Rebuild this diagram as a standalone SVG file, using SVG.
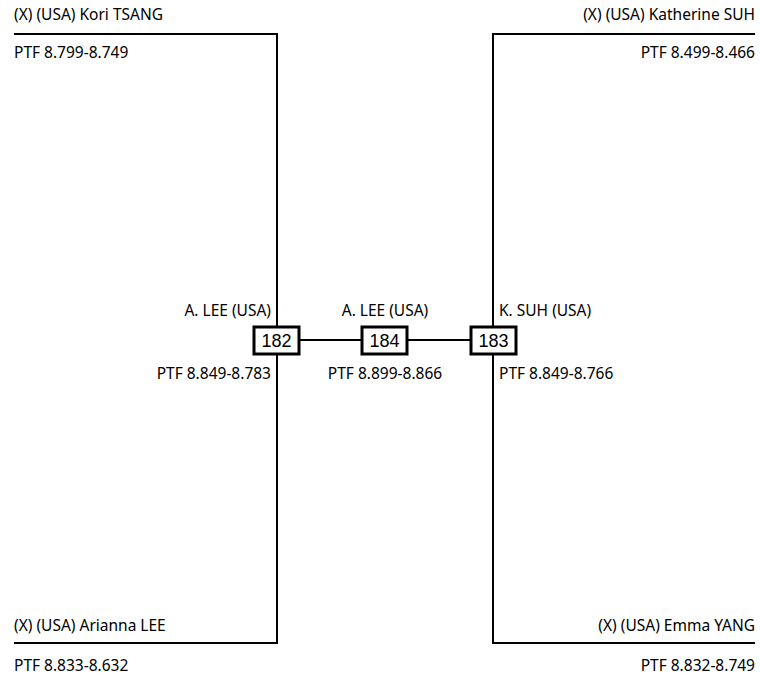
<svg xmlns="http://www.w3.org/2000/svg" width="760" height="676" viewBox="0 0 760 676">
<style>
text{font-family:"Noto Sans","Open Sans","DejaVu Sans",sans-serif;font-size:15.5px;fill:#000}
.num{font-family:"Liberation Sans",Arial,sans-serif;font-size:18px}
.ln{stroke:#000;stroke-width:2;fill:none}
.box{fill:#fff;stroke:#000;stroke-width:3}
</style>
<rect width="760" height="676" fill="#fff"/>
<g id="connectors">
<path class="ln" d="M14 34H277V643H14"/>
<path class="ln" d="M755 34H493V643H755"/>
<path class="ln" d="M277 340H493"/>
</g>
<g id="n182">
<rect class="box" x="254" y="327" width="45" height="27"/>
<text class="num" x="276.5" y="347" text-anchor="middle">182</text>
<text x="271" y="316" text-anchor="end">A. LEE (USA)</text>
<text x="271" y="379" text-anchor="end">PTF 8.849-8.783</text>
</g>
<g id="n184">
<rect class="box" x="362" y="327" width="45" height="27"/>
<text class="num" x="384.5" y="347" text-anchor="middle">184</text>
<text x="385" y="316" text-anchor="middle">A. LEE (USA)</text>
<text x="385" y="379" text-anchor="middle">PTF 8.899-8.866</text>
</g>
<g id="n183">
<rect class="box" x="471" y="327" width="45" height="27"/>
<text class="num" x="493.5" y="347" text-anchor="middle">183</text>
<text x="499" y="316">K. SUH (USA)</text>
<text x="499" y="379">PTF 8.849-8.766</text>
</g>
<g id="tsang">
<text x="14" y="20">(X) (USA) Kori TSANG</text>
<text x="14" y="58">PTF 8.799-8.749</text>
</g>
<g id="suh">
<text x="755" y="20" text-anchor="end">(X) (USA) Katherine SUH</text>
<text x="755" y="58" text-anchor="end">PTF 8.499-8.466</text>
</g>
<g id="alee">
<text x="14" y="631">(X) (USA) Arianna LEE</text>
<text x="14" y="671">PTF 8.833-8.632</text>
</g>
<g id="yang">
<text x="755" y="631" text-anchor="end">(X) (USA) Emma YANG</text>
<text x="755" y="671" text-anchor="end">PTF 8.832-8.749</text>
</g>
</svg>
